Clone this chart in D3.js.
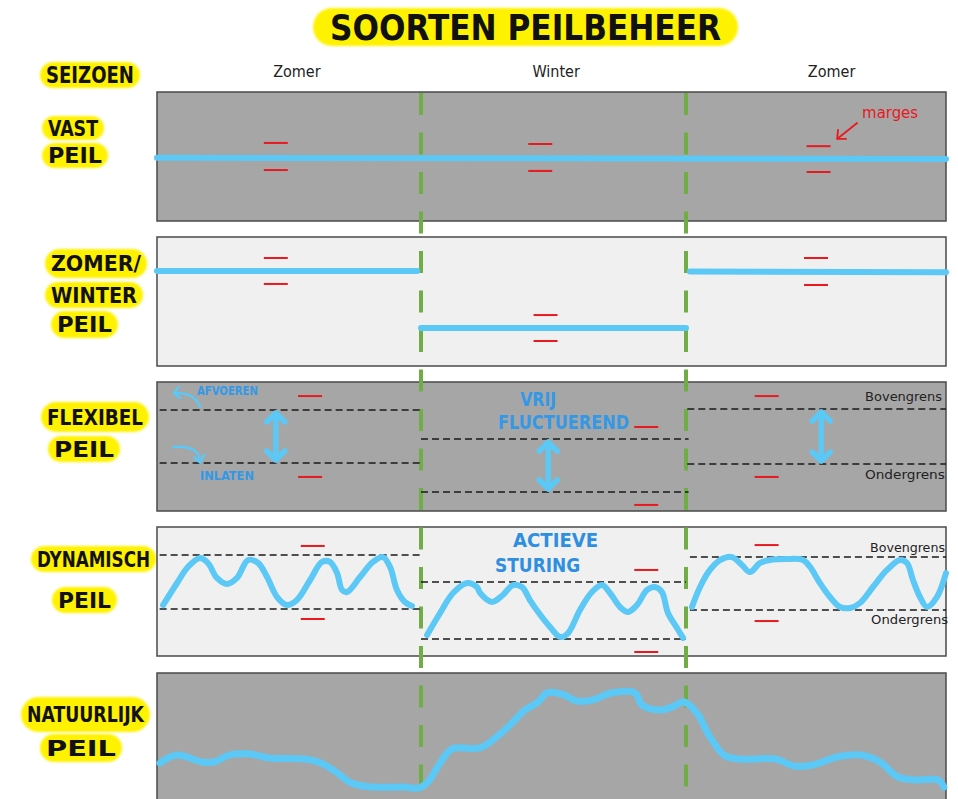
<!DOCTYPE html>
<html>
<head>
<meta charset="utf-8">
<script src="https://cdn.jsdelivr.net/npm/d3@7"></script>
<style>
  body { margin: 0; background: #fff; }
</style>
</head>
<body>
<div id="chart"></div>
<script>
// time axis: 0-100 zomer, 100-200 winter, 200-300 zomer ; water level 0-100 inside each panel
const seasons = ["Zomer", "Winter", "Zomer"];
const rowLabels = [["VAST", "PEIL"], ["ZOMER/", "WINTER", "PEIL"], ["FLEXIBEL", "PEIL"], ["DYNAMISCH", "PEIL"], ["NATUURLIJK", "PEIL"]];

// vast peil
const vastLevel = [[0, 49], [300, 48]];
const vastMarges = [[45, 60.5, 39.5], [145, 59.7, 38.8], [251, 58, 38]]; // x, boven, onder

// zomer/winter peil
const zwLevels = [[[0, 73.6], [98.5, 73.6]], [[100, 29.5], [200, 29.5]], [[201.5, 73.2], [300, 72.6]]];
const zwMarges = [[45, 83.7, 63.6], [147, 39.5, 19.4], [250, 83.7, 62.8]];

// flexibel peil: from, to, bovengrens, ondergrens
const flexGrenzen = [[1, 100, 78.3, 37.2], [100, 201, 55.8, 14.7], [200.5, 300, 79.1, 36.4]];
const flexMarges = [[58, 89.1, 26.4], [185, 65.1, 4.7], [231, 89.1, 26.4]];
const flexPijlen = [45, 148, 252];

// dynamisch peil
const dynGrenzen = [[1, 100, 78.3, 36.4], [100, 200, 57.4, 13.2], [201.5, 300, 76.7, 35.7]];
const dynMarges = [[59, 85.3, 28.7], [185, 66.7, 3.1], [231, 86.0, 27.1]];
const dynZomer1 = [[2.3, 39.5], [7.6, 56.6], [11.7, 69.0], [16.3, 76.0], [19.3, 72.1], [22.7, 60.5], [26.5, 55.8],
  [30.3, 60.5], [34.5, 74.4], [38.3, 72.1], [41.7, 61.2], [45.5, 45.7], [49.2, 39.5], [53.0, 43.4], [58.0, 58.9],
  [62.5, 72.9], [65.5, 72.9], [68.2, 64.3], [70.1, 51.2], [72.0, 49.6], [76.9, 61.2], [81.8, 72.9], [85.6, 76.7],
  [88.3, 69.0], [90.9, 51.2], [93.9, 41.9], [96.6, 38.8]];
const dynWinter = [[102.3, 16.3], [107.2, 33.3], [112.1, 48.8], [117.4, 56.6], [121.1, 53.5], [122.3, 48.8],
  [126.8, 41.9], [130.9, 47.3], [134.7, 55.0], [138.1, 53.5], [141.1, 43.4], [144.2, 34.1], [148.7, 22.5],
  [152.5, 14.7], [155.5, 17.8], [160.0, 35.7], [164.5, 49.6], [168.3, 55.0], [171.3, 48.8], [175.1, 38.0],
  [178.1, 34.1], [181.5, 39.5], [185.3, 51.2], [188.3, 53.5], [190.9, 49.6], [193.2, 33.3], [196.6, 21.7], [198.9, 14.0]];
const dynZomer2 = [[202.3, 38.0], [205.4, 53.5], [209.2, 66.7], [213.1, 74.4], [217.7, 76.7], [221.5, 70.5],
  [224.6, 65.1], [228.5, 72.1], [232.3, 74.4], [238.8, 75.2], [245.0, 74.4], [247.7, 69.0], [251.5, 56.6],
  [255.4, 45.7], [259.2, 38.0], [263.1, 37.2], [266.9, 41.1], [271.9, 53.5], [277.3, 66.7], [282.3, 74.4],
  [285.0, 72.1], [287.3, 58.9], [290.0, 45.7], [292.7, 38.0], [296.5, 45.7], [300, 64.3]];

// natuurlijk peil
const natuurlijk = [[1.1, 30.2], [7.6, 36.4], [17.0, 31.0], [21.6, 31.0], [27.3, 36.4], [35.2, 37.2], [42.4, 34.1],
  [56.1, 33.3], [62.1, 30.2], [67.8, 23.3], [73.5, 14.7], [81.8, 11.6], [93.2, 11.6], [99.2, 10.9], [102.6, 15.5],
  [107.2, 30.2], [111.7, 41.1], [122.3, 41.9], [128.0, 49.6], [133.6, 59.7], [139.2, 71.3], [144.2, 77.5],
  [147.5, 84.5], [153.2, 83.7], [158.9, 78.3], [164.9, 79.1], [171.7, 84.5], [180.8, 84.5], [183.4, 75.2],
  [190.2, 71.3], [194.7, 73.6], [199.2, 77.5], [204.2, 69.0], [208.8, 51.9], [214.6, 36.4], [220.4, 33.3],
  [234.6, 33.3], [241.5, 27.9], [248.8, 28.7], [258.1, 34.9], [267.3, 36.4], [274.6, 31.0], [281.5, 19.4],
  [288.5, 17.1], [296.9, 17.1], [299.2, 11.6]];

// ---- layout ----
const width = 958, height = 799;
const panelTops = [92, 237, 382, 527, 673], panelH = 129;
const panelFill = ["#a6a6a6", "#f0f0f0", "#a6a6a6", "#f0f0f0", "#a6a6a6"];
const seasonX = [53, 151, 256];
// label boxes: x0, x1, y0, y1 per line
const labelBoxes = [
  [[42, 104, 116, 140], [42, 108, 143, 168]],
  [[45, 147, 249, 278], [45, 143, 282, 308], [51, 118, 311, 338]],
  [[41, 149, 402, 432], [48, 120, 436, 462]],
  [[31, 156, 546, 572], [52, 117, 587, 613]],
  [[21, 150, 697, 732], [40, 122, 734, 762]]
];

const blue = "#5bc8f5", red = "#e8191f", green = "#70ad47", yellow = "#fff200", textBlue = "#3399e6";
const handFont = "'DejaVu Sans Condensed', sans-serif";

const x = d3.scaleLinear().domain([0, 100, 200, 300]).range([157, 421, 686, 946]);
const yP = i => d3.scaleLinear().domain([0, 100]).range([panelTops[i] + panelH, panelTops[i]]);

const svg = d3.select("#chart").append("svg")
  .attr("width", width).attr("height", height);

const defs = svg.append("defs");
defs.append("filter").attr("id", "soft")
  .append("feGaussianBlur").attr("stdDeviation", 1.3);

function highlight(x0, x1, y0, y1) {
  svg.append("rect")
    .attr("x", x0).attr("y", y0).attr("width", x1 - x0).attr("height", y1 - y0)
    .attr("rx", (y1 - y0) / 2).attr("fill", yellow).attr("filter", "url(#soft)");
}

function capsText(txt, x0, x1, y0, y1, size, pad = 6) {
  svg.append("text")
    .attr("x", x0 + pad).attr("y", (y0 + y1) / 2 + size * 0.36)
    .attr("textLength", x1 - x0 - pad * 2).attr("lengthAdjust", "spacingAndGlyphs")
    .style("font-family", handFont).style("font-weight", "bold")
    .style("font-size", size + "px").attr("fill", "#111")
    .text(txt);
}

// title
highlight(313, 738, 8, 46);
capsText("SOORTEN PEILBEHEER", 313, 738, 8, 46, 36, 17);

// seizoenen header
highlight(40, 140, 62, 88);
capsText("SEIZOEN", 40, 140, 62, 88, 23);
svg.selectAll(".season").data(seasons).join("text")
  .attr("x", (d, i) => x(seasonX[i])).attr("y", 77)
  .attr("text-anchor", "middle")
  .style("font-family", "'DejaVu Sans Condensed', sans-serif").style("font-size", "16px")
  .attr("fill", "#222")
  .text(d => d);

// row labels
rowLabels.forEach((lines, r) => {
  lines.forEach((t, k) => {
    const b = labelBoxes[r][k];
    highlight(b[0], b[1], b[2], b[3]);
    capsText(t, b[0], b[1], b[2], b[3], 22);
  });
});

// panels
svg.selectAll(".panel").data(panelTops).join("rect")
  .attr("x", x(0)).attr("y", d => d)
  .attr("width", x(300) - x(0)).attr("height", panelH)
  .attr("fill", (d, i) => panelFill[i])
  .attr("stroke", "#4a4a4a").attr("stroke-width", 1.5);

// season dividers
svg.selectAll(".divider").data([100, 200]).join("line")
  .attr("x1", d => x(d)).attr("x2", d => x(d))
  .attr("y1", 93).attr("y2", height)
  .attr("stroke", green).attr("stroke-width", 4)
  .attr("stroke-dasharray", "22,17.5");

const g = svg.append("g");

function marges(data, i) {
  const y = yP(i);
  data.forEach(m => {
    [m[1], m[2]].forEach(v => {
      g.append("line")
        .attr("x1", x(m[0]) - 12).attr("x2", x(m[0]) + 12)
        .attr("y1", y(v)).attr("y2", y(v))
        .attr("stroke", red).attr("stroke-width", 2);
    });
  });
}

function level(data, i, w) {
  const y = yP(i);
  g.append("path")
    .attr("d", d3.line().x(d => x(d[0])).y(d => y(d[1]))(data))
    .attr("fill", "none").attr("stroke", blue).attr("stroke-width", w)
    .attr("stroke-linecap", "round");
}

function wave(data, i, w) {
  const y = yP(i);
  g.append("path")
    .attr("d", d3.line().curve(d3.curveCatmullRom.alpha(0.5)).x(d => x(d[0])).y(d => y(d[1]))(data))
    .attr("fill", "none").attr("stroke", blue).attr("stroke-width", w)
    .attr("stroke-linecap", "round").attr("stroke-linejoin", "round");
}

function grenzen(data, i) {
  const y = yP(i);
  data.forEach(s => {
    [s[2], s[3]].forEach(v => {
      g.append("line")
        .attr("x1", x(s[0])).attr("x2", x(s[1]))
        .attr("y1", y(v)).attr("y2", y(v))
        .attr("stroke", "#1a1a1a").attr("stroke-width", 1.6)
        .attr("stroke-dasharray", "7,4");
    });
  });
}

function doubleArrow(xv, top, bot, i) {
  const y = yP(i);
  const xp = x(xv), y0 = y(top) + 3, y1 = y(bot) - 3, a = 9;
  g.append("path")
    .attr("d", `M${xp},${y0}V${y1}M${xp - a},${y0 + a}L${xp},${y0}L${xp + a},${y0 + a}M${xp - a},${y1 - a}L${xp},${y1}L${xp + a},${y1 - a}`)
    .attr("fill", "none").attr("stroke", blue).attr("stroke-width", 5.5)
    .attr("stroke-linecap", "round").attr("stroke-linejoin", "round");
}

function note(txt, xv, yv, i, opts) {
  const y = yP(i);
  const t = g.append("text")
    .attr("x", x(xv)).attr("y", y(yv))
    .attr("text-anchor", "middle")
    .style("font-family", opts.font || handFont)
    .style("font-weight", opts.bold ? "bold" : "normal")
    .style("font-size", opts.size + "px")
    .attr("fill", opts.color)
    .text(txt);
  if (opts.len) t.attr("textLength", opts.len).attr("lengthAdjust", "spacingAndGlyphs");
}

// 1 vast peil
level(vastLevel, 0, 6);
marges(vastMarges, 0);
note("marges", 278.5, 80, 0, { size: 15, color: red, len: 56 });
{
  const y = yP(0);
  const x0 = x(265.8), y0 = y(76), x1 = x(258.1), y1 = y(63.6);
  g.append("path")
    .attr("d", `M${x0},${y0}L${x1},${y1}M${x1 + 1},${y1 - 9}L${x1},${y1}L${x1 + 9},${y1}`)
    .attr("fill", "none").attr("stroke", red).attr("stroke-width", 1.8)
    .attr("stroke-linecap", "round").attr("stroke-linejoin", "round");
}

// 2 zomer/winter peil
zwLevels.forEach(s => level(s, 1, 6));
marges(zwMarges, 1);

// 3 flexibel peil
grenzen(flexGrenzen, 2);
marges(flexMarges, 2);
flexPijlen.forEach((p, k) => doubleArrow(p, flexGrenzen[k][2], flexGrenzen[k][3], 2));
note("AFVOEREN", 26.7, 90, 2, { size: 12, color: textBlue, len: 61, bold: true });
note("INLATEN", 26.5, 24, 2, { size: 12, color: textBlue, len: 54, bold: true });
note("VRIJ", 144.2, 81.5, 2, { size: 19, color: textBlue, len: 36, bold: true });
note("FLUCTUEREND", 153.8, 63.6, 2, { size: 19, color: textBlue, len: 131, bold: true });
note("Bovengrens", 283.7, 85, 2, { size: 13, color: "#222", len: 77 });
note("Ondergrens", 284.2, 24.5, 2, { size: 13, color: "#222", len: 80 });
{
  const y = yP(2);
  // afvoeren arrow
  const a0 = [x(16.3), y(80.6)], ac = [x(14.4), y(92.2)], a1 = [x(6.4), y(91.5)];
  g.append("path")
    .attr("d", `M${a0}Q${ac} ${a1}M${a1[0] + 5},${a1[1] - 6}L${a1}L${a1[0] + 6},${a1[1] + 5}`)
    .attr("fill", "none").attr("stroke", blue).attr("stroke-width", 2.5)
    .attr("stroke-linecap", "round").attr("stroke-linejoin", "round");
  // inlaten arrow
  const b0 = [x(6.1), y(49.6)], bc = [x(16.3), y(51.2)], b1 = [x(16.3), y(37.6)];
  g.append("path")
    .attr("d", `M${b0}Q${bc} ${b1}M${b1[0] - 6},${b1[1] - 5}L${b1}L${b1[0] + 4},${b1[1] - 8}`)
    .attr("fill", "none").attr("stroke", blue).attr("stroke-width", 2.5)
    .attr("stroke-linecap", "round").attr("stroke-linejoin", "round");
}

// 4 dynamisch peil
grenzen(dynGrenzen, 3);
marges(dynMarges, 3);
[dynZomer1, dynWinter, dynZomer2].forEach(s => wave(s, 3, 6));
note("ACTIEVE", 150.8, 84.5, 3, { size: 20, color: "#2e8fe0", len: 85, bold: true });
note("STURING", 144, 65, 3, { size: 20, color: "#2e8fe0", len: 85, bold: true });
note("Bovengrens", 285.2, 80.5, 3, { size: 13, color: "#222", len: 75 });
note("Ondergrens", 286, 25, 3, { size: 13, color: "#222", len: 77 });

// 5 natuurlijk peil
wave(natuurlijk, 4, 7);
</script>
</body>
</html>
